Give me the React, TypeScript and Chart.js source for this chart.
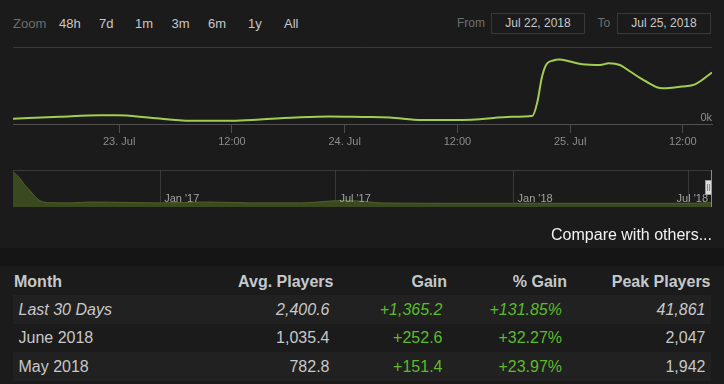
import React, { useEffect, useRef } from "react";
import { Chart, registerables } from "chart.js";

Chart.register(...registerables);

const FONT = '"Liberation Sans", Arial, sans-serif';

// ---- Main chart: hours relative to 23 Jul 2018 00:00 ----
const mainHours = [-11.3, -6.3, -2.0, -0.2, 3.3, 7.6, 12.0, 15.0, 19.3, 22.4, 25.9, 28.8, 32.2, 37.5, 41.8, 44.0, 44.5, 45.0, 45.5, 46.2, 46.8, 48.0, 49.3, 51.2, 52.1, 53.3, 54.3, 56.0, 57.8, 59.9, 61.3, 63.1];
const mainPlayers = [3442, 4740, 5649, 5649, 4091, 2143, 2078, 2922, 4351, 4870, 4545, 4221, 2597, 2792, 4740, 5390, 14000, 30519, 38961, 41234, 41861, 40584, 38766, 38312, 39416, 38312, 34416, 27922, 23182, 24351, 25779, 33442];
const mainTickHours = [0, 12, 24, 36, 48, 60];
const mainTickLabels = ["23. Jul", "12:00", "24. Jul", "12:00", "25. Jul", "12:00"];
const mainRange = [-11.3, 63.1];
const mainYMax = 50000;

// ---- Navigator: days relative to 1 Jan 2017 ----
const navDays = [-152, -145, -140, -135, -129, -124, -114, -93, -72, -31, 0, 49, 93, 145, 186, 207, 228, 300, 365, 455, 546, 564, 570];
const navPlayers = [38200, 31200, 24000, 18400, 11200, 6800, 4600, 4400, 5400, 4800, 4400, 5400, 4400, 4400, 6800, 6400, 4400, 4000, 4000, 4000, 4000, 4400, 5200];
const navTickDays = [0, 181, 365, 546];
const navTickLabels = ["Jan '17", "Jul '17", "Jan '18", "Jul '18"];
const navRange = [-152, 570];
const navYMax = 40000;

// ---- Range selector ----
const zoomButtons = ["48h", "7d", "1m", "3m", "6m", "1y", "All"];
const zoomButtonX = [59, 99, 135, 171.5, 208, 248, 284];
const fromDate = "Jul 22, 2018";
const toDate = "Jul 25, 2018";

// ---- Table ----
const tableHeaders = ["Month", "Avg. Players", "Gain", "% Gain", "Peak Players"];
const months = ["Last 30 Days", "June 2018", "May 2018"];
const avgPlayers = ["2,400.6", "1,035.4", "782.8"];
const gains = ["+1,365.2", "+252.6", "+151.4"];
const pctGains = ["+131.85%", "+32.27%", "+23.97%"];
const peakPlayers = ["41,861", "2,047", "1,942"];

const BG = "#1b1b1b";

type TProps = {
  text: string;
  x: number;
  cy: number;
  size: number;
  color: string;
  align?: "left" | "right" | "center";
  bold?: boolean;
  italic?: boolean;
  width?: number;
};

function T({ text, x, cy, size, color, align = "left", bold, italic, width }: TProps) {
  const lh = Math.round(size * 1.25);
  const top = cy - size * 0.615;
  const style: React.CSSProperties = {
    position: "absolute",
    top,
    lineHeight: `${lh}px`,
    height: lh,
    fontSize: size,
    fontFamily: FONT,
    color,
    fontWeight: bold ? "bold" : "normal",
    fontStyle: italic ? "italic" : "normal",
    whiteSpace: "nowrap",
  };
  if (align === "left") style.left = x;
  else if (align === "right") {
    style.right = 724 - x;
    style.textAlign = "right";
  } else {
    style.left = x - (width || 0) / 2;
    style.width = width;
    style.textAlign = "center";
  }
  return <div style={style}>{text}</div>;
}

export default function App() {
  const mainRef = useRef<HTMLCanvasElement>(null);
  const navRef = useRef<HTMLCanvasElement>(null);

  useEffect(() => {
    const charts: Chart[] = [];
    if (mainRef.current) {
      charts.push(
        new Chart(mainRef.current, {
          type: "line",
          data: {
            datasets: [
              {
                data: mainHours.map((h, i) => ({ x: h, y: mainPlayers[i] })),
                borderColor: "#a2cd52",
                borderWidth: 2,
                pointRadius: 0,
                tension: 0.4,
                cubicInterpolationMode: "monotone",
                fill: false,
              },
            ],
          },
          options: {
            animation: false,
            responsive: false,
            maintainAspectRatio: false,
            layout: { padding: { left: 13, right: 12, top: 7, bottom: 0 } },
            plugins: { legend: { display: false }, tooltip: { enabled: false } },
            scales: {
              x: {
                type: "linear",
                min: mainRange[0],
                max: mainRange[1],
                afterBuildTicks: (s: any) => {
                  s.ticks = mainTickHours.map((v) => ({ value: v }));
                },
                afterFit: (s: any) => {
                  s.height = 28;
                },
                grid: { drawOnChartArea: false, drawTicks: true, tickLength: 9, color: "#4a4a4a" },
                border: { display: true, color: "#4f4f4f" },
                ticks: {
                  color: "#8c8c8c",
                  font: { family: FONT, size: 11 },
                  padding: 2,
                  maxRotation: 0,
                  autoSkip: false,
                  callback: (v: any) => {
                    const i = mainTickHours.indexOf(Number(v));
                    return i >= 0 ? mainTickLabels[i] : "";
                  },
                },
              },
              y: {
                position: "right",
                min: 0,
                max: mainYMax,
                afterBuildTicks: (s: any) => {
                  s.ticks = [{ value: 0 }, { value: mainYMax }];
                },
                afterFit: (s: any) => {
                  s.width = 0;
                },
                grid: { color: "#383838", drawTicks: false },
                border: { display: false },
                ticks: {
                  mirror: true,
                  padding: 0,
                  labelOffset: -6,
                  color: "#8c8c8c",
                  font: { family: FONT, size: 11 },
                  callback: (v: any) => (Number(v) === 0 ? "0k" : ""),
                },
              },
            },
          },
        })
      );
    }
    if (navRef.current) {
      const navLabelPlugin = {
        id: "navLabels",
        afterDatasetsDraw(chart: any) {
          const ctx = chart.ctx;
          const xs = chart.scales.x;
          const area = chart.chartArea;
          ctx.save();
          ctx.font = `11px ${FONT}`;
          ctx.fillStyle = "#a3a3a3";
          ctx.textBaseline = "middle";
          ctx.textAlign = "left";
          navTickDays.forEach((d, i) => {
            const label = navTickLabels[i];
            const w = ctx.measureText(label).width;
            let px = xs.getPixelForValue(d) + 4;
            if (px + w > area.right - 3) px = area.right - 4 - w;
            ctx.fillText(label, px, area.bottom - 8);
          });
          ctx.restore();
        },
      };
      charts.push(
        new Chart(navRef.current, {
          type: "line",
          data: {
            datasets: [
              {
                data: navDays.map((d, i) => ({ x: d, y: navPlayers[i] })),
                borderColor: "#4f6328",
                backgroundColor: "#3b4920",
                borderWidth: 1,
                pointRadius: 0,
                tension: 0.4,
                cubicInterpolationMode: "monotone",
                fill: "origin",
              },
            ],
          },
          options: {
            animation: false,
            responsive: false,
            maintainAspectRatio: false,
            layout: { padding: { left: 13, right: 12, top: 10, bottom: 3 } },
            plugins: { legend: { display: false }, tooltip: { enabled: false } },
            scales: {
              x: {
                type: "linear",
                min: navRange[0],
                max: navRange[1],
                afterBuildTicks: (s: any) => {
                  s.ticks = navTickDays.map((v) => ({ value: v }));
                },
                afterFit: (s: any) => {
                  s.height = 0;
                },
                ticks: { display: false },
                grid: { color: "#3a3a3a", drawTicks: false },
                border: { display: false },
              },
              y: {
                min: 0,
                max: navYMax,
                afterBuildTicks: (s: any) => {
                  s.ticks = [{ value: navYMax }];
                },
                afterFit: (s: any) => {
                  s.width = 0;
                },
                ticks: { display: false },
                grid: { color: "#3a3a3a", drawTicks: false },
                border: { display: false },
              },
            },
          },
          plugins: [navLabelPlugin],
        })
      );
    }
    return () => charts.forEach((c) => c.destroy());
  }, []);

  const rowTops = [295, 324, 352];
  const rowCy = [309.5, 338, 366.5];
  const txt = "#c8c8c8";
  const green = "#5bbb2c";

  return (
    <div
      style={{
        position: "relative",
        width: 724,
        height: 384,
        background: BG,
        overflow: "hidden",
        fontFamily: FONT,
      }}
    >
      <style>{`html,body{margin:0;padding:0;background:${BG};}`}</style>

      {/* range selector */}
      <T text="Zoom" x={13} cy={24} size={13} color="#6e6e6e" />
      {zoomButtons.map((b, i) => (
        <T key={b} text={b} x={zoomButtonX[i]} cy={24} size={13} color="#c8c8c8" />
      ))}
      <T text="From" x={457} cy={23.7} size={12} color="#6e6e6e" />
      <div
        style={{
          position: "absolute",
          left: 491,
          top: 13,
          width: 92,
          height: 19,
          border: "1px solid #383838",
        }}
      />
      <T text={fromDate} x={538} cy={23.7} size={12} color="#c8c8c8" align="center" width={94} />
      <T text="To" x={597.5} cy={23.7} size={12} color="#6e6e6e" />
      <div
        style={{
          position: "absolute",
          left: 617,
          top: 13,
          width: 92,
          height: 19,
          border: "1px solid #383838",
        }}
      />
      <T text={toDate} x={664} cy={23.7} size={12} color="#c8c8c8" align="center" width={94} />

      {/* main chart */}
      <canvas
        ref={mainRef}
        width={724}
        height={112}
        style={{ position: "absolute", left: 0, top: 40, width: 724, height: 112 }}
      />

      {/* navigator */}
      <canvas
        ref={navRef}
        width={724}
        height={50}
        style={{ position: "absolute", left: 0, top: 160, width: 724, height: 50 }}
      />
      <div
        style={{
          position: "absolute",
          left: 711,
          top: 170,
          width: 1,
          height: 37,
          background: "#8a8a8a",
        }}
      />
      <div
        style={{
          position: "absolute",
          left: 705,
          top: 180,
          width: 5,
          height: 13,
          background: "#dcdcdc",
          border: "1px solid #9a9a9a",
        }}
      >
        <div style={{ position: "absolute", left: 1, top: 3, width: 1, height: 7, background: "#8a8a8a" }} />
        <div style={{ position: "absolute", left: 3, top: 3, width: 1, height: 7, background: "#8a8a8a" }} />
      </div>

      <T text="Compare with others..." x={712} cy={234.7} size={16} color="#f2f2f2" align="right" />

      {/* separator band */}
      <div style={{ position: "absolute", left: 0, top: 248, width: 724, height: 18, background: "#151515" }} />

      {/* table */}
      {rowTops.map((t, i) =>
        i % 2 === 0 ? (
          <div
            key={"bg" + i}
            style={{ position: "absolute", left: 13, top: t, width: 698, height: 28.5, background: "#212121" }}
          />
        ) : null
      )}
      <T text={tableHeaders[0]} x={14} cy={281.7} size={16} color="#c5c9cc" bold />
      <T text={tableHeaders[1]} x={333.5} cy={281.7} size={16} color="#c5c9cc" bold align="right" />
      <T text={tableHeaders[2]} x={447} cy={281.7} size={16} color="#c5c9cc" bold align="right" />
      <T text={tableHeaders[3]} x={567} cy={281.7} size={16} color="#c5c9cc" bold align="right" />
      <T text={tableHeaders[4]} x={710.5} cy={281.7} size={16} color="#c5c9cc" bold align="right" />
      {months.map((m, i) => (
        <React.Fragment key={m}>
          <T text={m} x={18.5} cy={rowCy[i]} size={16} color={txt} italic={i === 0} />
          <T text={avgPlayers[i]} x={329.5} cy={rowCy[i]} size={16} color={txt} italic={i === 0} align="right" />
          <T text={gains[i]} x={442.5} cy={rowCy[i]} size={16} color={green} italic={i === 0} align="right" />
          <T text={pctGains[i]} x={562} cy={rowCy[i]} size={16} color={green} italic={i === 0} align="right" />
          <T text={peakPlayers[i]} x={705.5} cy={rowCy[i]} size={16} color={txt} italic={i === 0} align="right" />
        </React.Fragment>
      ))}
    </div>
  );
}
